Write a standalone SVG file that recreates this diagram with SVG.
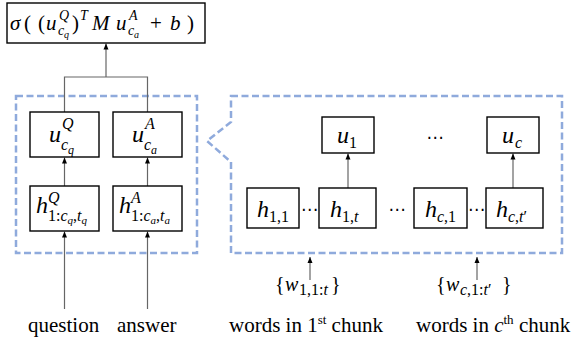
<svg xmlns="http://www.w3.org/2000/svg" width="573" height="346" viewBox="0 0 573 346">
<defs>
<marker id="ah" viewBox="0 0 6 6" refX="6" refY="3" markerWidth="6" markerHeight="6" markerUnits="userSpaceOnUse" orient="auto">
<path d="M0,0.5 L6,3 L0,5.5 Z" fill="#000"/>
</marker>
<style>
.box{fill:#fff;stroke:#000;stroke-width:1.4}
.dash{fill:none;stroke:#8FAADC;stroke-width:2.5;stroke-dasharray:7 3.5}
.ln{fill:none;stroke:#666;stroke-width:1.2}
.ar{fill:none;stroke:#666;stroke-width:1.2;marker-end:url(#ah)}
.t{font-family:"Liberation Serif","Times New Roman",serif;fill:#000}
.m{font-style:italic}
.up{font-style:normal}
.dots{font-family:"DejaVu Sans",sans-serif;font-size:17px;text-anchor:middle;fill:#000}
.lbl{font-size:21px}
</style>
</defs>

<g id="frames">
<rect class="dash" x="16" y="96" width="181" height="157"/>
<path class="dash" d="M231,96 H562 V253 H231 V162 L207,141 L231,122 Z"/>
</g>

<g id="connectors">
<path class="ln" d="M64.5,112 V77 H147.5 V112"/>
<path class="ar" d="M106,77 V43.5"/>
<path class="ar" d="M64.5,186 V157.5"/>
<path class="ar" d="M147.5,186 V157.5"/>
<path class="ar" d="M64.5,309 V231.5"/>
<path class="ar" d="M147.5,309 V231.5"/>
<path class="ar" d="M348,188 V153.5"/>
<path class="ar" d="M513,188 V153.5"/>
<path class="ar" d="M310,280 V257"/>
<path class="ar" d="M477,280 V257"/>
</g>

<g id="score">
<rect class="box" x="7" y="3" width="198" height="40"/>
<text class="t m" font-size="21"><tspan x="10" y="30">σ</tspan><tspan class="up" x="24" y="30">(</tspan><tspan class="up" x="38" y="30">(</tspan><tspan x="46" y="30">u</tspan><tspan font-size="14" x="59" y="20">Q</tspan><tspan font-size="14" x="58" y="35">c</tspan><tspan font-size="10" x="64" y="38">q</tspan><tspan class="up" x="72" y="30">)</tspan><tspan font-size="14" x="80" y="20">T</tspan><tspan x="92" y="30">M</tspan><tspan x="116" y="30">u</tspan><tspan font-size="14" x="129" y="20">A</tspan><tspan font-size="14" x="128" y="35">c</tspan><tspan font-size="10" x="134" y="38">a</tspan><tspan class="up" x="150" y="30">+</tspan><tspan x="170" y="30">b</tspan><tspan class="up" x="187" y="30">)</tspan></text>
</g>

<g id="uQ">
<rect class="box" x="30" y="112" width="69" height="45"/>
<text class="t m"><tspan font-size="24" x="49" y="142">u</tspan><tspan font-size="16" x="62" y="129">Q</tspan><tspan font-size="16" x="61" y="150">c</tspan><tspan font-size="12" x="68" y="154">q</tspan></text>
</g>
<g id="uA">
<rect class="box" x="113" y="112" width="69" height="45"/>
<text class="t m"><tspan font-size="24" x="132" y="142">u</tspan><tspan font-size="16" x="145" y="129">A</tspan><tspan font-size="16" x="144" y="150">c</tspan><tspan font-size="12" x="151" y="154">a</tspan></text>
</g>
<g id="hQ">
<rect class="box" x="30" y="186" width="69" height="45"/>
<text class="t m"><tspan font-size="24" x="36" y="213">h</tspan><tspan font-size="16" x="48" y="203">Q</tspan><tspan font-size="16" class="up" x="48" y="221">1:</tspan><tspan font-size="16">c</tspan><tspan font-size="11" dy="3">q</tspan><tspan font-size="16" class="up" dy="-3">,</tspan><tspan font-size="16">t</tspan><tspan font-size="11" dy="3">q</tspan></text>
</g>
<g id="hA">
<rect class="box" x="113" y="186" width="69" height="45"/>
<text class="t m"><tspan font-size="24" x="119" y="213">h</tspan><tspan font-size="16" x="131" y="203">A</tspan><tspan font-size="16" class="up" x="131" y="221">1:</tspan><tspan font-size="16">c</tspan><tspan font-size="11" dy="3">a</tspan><tspan font-size="16" class="up" dy="-3">,</tspan><tspan font-size="16">t</tspan><tspan font-size="11" dy="3">a</tspan></text>
</g>

<g id="u1">
<rect class="box" x="322" y="117" width="52" height="36"/>
<text class="t m"><tspan font-size="24" x="337" y="143">u</tspan><tspan font-size="16" class="up" x="349" y="148">1</tspan></text>
</g>
<g id="uc">
<rect class="box" x="487" y="117" width="52" height="36"/>
<text class="t m"><tspan font-size="24" x="502" y="143">u</tspan><tspan font-size="16" x="515" y="148">c</tspan></text>
</g>
<g id="h11">
<rect class="box" x="247" y="188" width="52" height="40"/>
<text class="t m"><tspan font-size="24" x="257" y="217">h</tspan><tspan font-size="16" class="up" x="269" y="222">1,1</tspan></text>
</g>
<g id="h1t">
<rect class="box" x="319" y="188" width="57" height="40"/>
<text class="t m"><tspan font-size="24" x="330" y="217">h</tspan><tspan font-size="16" class="up" x="342" y="222">1,</tspan><tspan font-size="16">t</tspan></text>
</g>
<g id="hc1">
<rect class="box" x="414" y="188" width="53" height="40"/>
<text class="t m"><tspan font-size="24" x="425" y="217">h</tspan><tspan font-size="16" x="437" y="222">c</tspan><tspan font-size="16" class="up">,1</tspan></text>
</g>
<g id="hct">
<rect class="box" x="486" y="188" width="57" height="40"/>
<text class="t m"><tspan font-size="24" x="496" y="217">h</tspan><tspan font-size="16" x="508" y="222">c</tspan><tspan font-size="16" class="up">,</tspan><tspan font-size="16">t</tspan><tspan font-size="16" class="up">′</tspan></text>
</g>

<g id="ellipses">
<text class="dots" x="309.5" y="215">⋯</text>
<text class="dots" x="397" y="215">⋯</text>
<text class="dots" x="476.5" y="215">⋯</text>
<text class="dots" x="435" y="143">⋯</text>
</g>

<g id="inputs">
<text class="t m"><tspan font-size="20" class="up" x="275" y="291">{</tspan><tspan font-size="20" x="285" y="291">w</tspan><tspan font-size="16" class="up" x="299" y="295">1,1:</tspan><tspan font-size="16">t</tspan><tspan font-size="20" class="up" x="331" y="291">}</tspan></text>
<text class="t m"><tspan font-size="20" class="up" x="436" y="291">{</tspan><tspan font-size="20" x="446" y="291">w</tspan><tspan font-size="16" x="460" y="295">c</tspan><tspan font-size="16" class="up">,1:</tspan><tspan font-size="16">t</tspan><tspan font-size="16" class="up">′</tspan><tspan font-size="20" class="up" x="502" y="291">}</tspan></text>
<text class="t lbl" x="28" y="332">question</text>
<text class="t lbl" x="117" y="332">answer</text>
<text class="t lbl" x="229" y="332">words in 1<tspan font-size="13" dy="-8">st</tspan><tspan dy="8"> chunk</tspan></text>
<text class="t lbl" x="416" y="332">words in <tspan class="m">c</tspan><tspan font-size="13" dy="-8">th</tspan><tspan dy="8"> chunk</tspan></text>
</g>
</svg>
